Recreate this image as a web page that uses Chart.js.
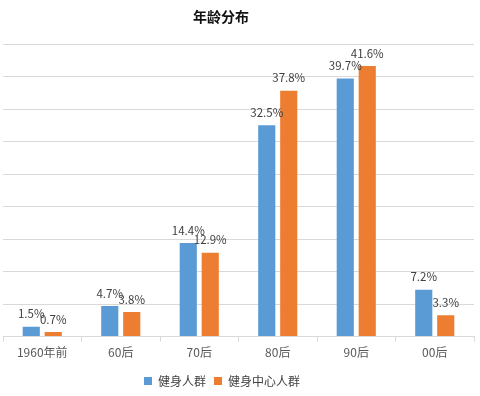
<!DOCTYPE html>
<html><head><meta charset="utf-8">
<script src="https://cdn.jsdelivr.net/npm/chart.js@4/dist/chart.umd.min.js"></script>
<style>html,body{margin:0;padding:0;background:#fff;}#wrap{width:480px;height:396px;}</style>
</head><body><div id="wrap"><canvas id="c" width="480" height="396"></canvas></div>
<script>
const categories = ["1960年前", "60后", "70后", "80后", "90后", "00后"];
const fitnessPeople = [1.5, 4.7, 14.4, 32.5, 39.7, 7.2];
const fitnessCenterPeople = [0.7, 3.8, 12.9, 37.8, 41.6, 3.3];
const seriesNames = ["健身人群", "健身中心人群"];
const titleText = "年龄分布";

const FONT = '"Noto Sans CJK SC", "Noto Sans", sans-serif';

const labelPlugin = {
  id: 'barLabels',
  afterDatasetsDraw(chart) {
    const ctx = chart.ctx;
    ctx.save();
    ctx.font = '11.5px ' + FONT;
    ctx.fillStyle = '#404040';
    ctx.textAlign = 'center';
    ctx.textBaseline = 'bottom';
    chart.data.datasets.forEach((ds, i) => {
      const meta = chart.getDatasetMeta(i);
      meta.data.forEach((bar, j) => {
        ctx.fillText(ds.data[j].toFixed(1) + '%', bar.x, bar.y - 7);
      });
    });
    ctx.restore();
  }
};

const titlePlugin = {
  id: 'customTitle',
  afterLayout(chart) {
    if (chart.legend) {
      chart.legend.left -= 33;
      chart.legend.top += 3;
    }
  },
  afterDraw(chart) {
    const ctx = chart.ctx;
    ctx.save();
    ctx.font = 'bold 14px ' + FONT;
    ctx.fillStyle = '#111111';
    ctx.textAlign = 'center';
    ctx.textBaseline = 'middle';
    ctx.fillText(titleText, 221, 17);
    ctx.restore();
  }
};

new Chart(document.getElementById('c'), {
  type: 'bar',
  data: {
    labels: categories,
    datasets: [
      { label: seriesNames[0], data: fitnessPeople, backgroundColor: '#5B9BD5', categoryPercentage: 0.56, barPercentage: 0.78 },
      { label: seriesNames[1], data: fitnessCenterPeople, backgroundColor: '#ED7D31', categoryPercentage: 0.56, barPercentage: 0.78 }
    ]
  },
  options: {
    responsive: false,
    animation: false,
    layout: { padding: { left: 3, right: 6, top: 44, bottom: 2 } },
    plugins: {
      title: { display: false },
      legend: { position: 'bottom', labels: { color: '#404040', font: { family: FONT, size: 12 }, boxWidth: 8, boxHeight: 8, padding: 8 } },
      tooltip: { enabled: false }
    },
    scales: {
      x: {
        grid: { display: true, offset: true, drawOnChartArea: false, tickLength: 5, color: '#d9d9d9' },
        border: { color: '#d9d9d9' },
        ticks: { color: '#595959', font: { family: FONT, size: 12 }, padding: 4 }
      },
      y: {
        min: 0, max: 45,
        ticks: { display: false, stepSize: 5 },
        grid: { color: '#d9d9d9', drawTicks: false },
        border: { display: false }
      }
    }
  },
  plugins: [labelPlugin, titlePlugin]
});
</script></body></html>
